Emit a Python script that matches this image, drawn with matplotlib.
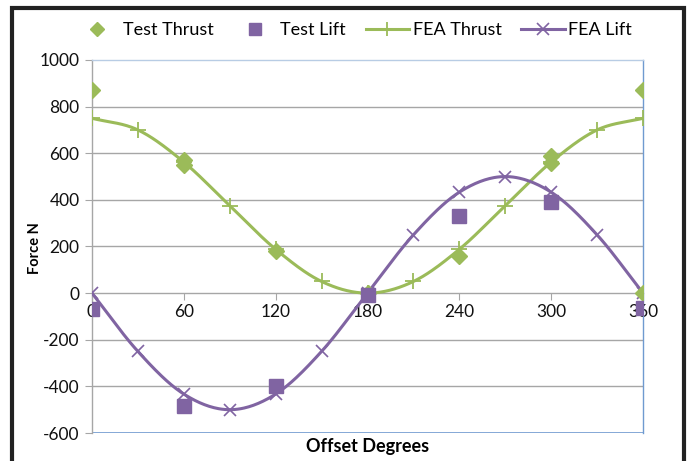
import matplotlib
matplotlib.use("Agg")
import matplotlib.pyplot as plt
import matplotlib.patches as patches
from matplotlib.lines import Line2D
import numpy as np

plt.rcParams['font.family'] = ['Lato', 'DejaVu Sans']
plt.rcParams['axes.unicode_minus'] = False

# data
fea_deg = [0, 30, 60, 90, 120, 150, 180, 210, 240, 270, 300, 330, 360]
fea_thrust = [750, 700, 562, 375, 188, 50, 0, 50, 188, 375, 562, 700, 750]
fea_lift = [0, -250, -433, -500, -433, -250, 0, 250, 433, 500, 433, 250, 0]

test_thrust_deg = [0, 60, 60, 120, 180, 240, 300, 300, 360, 360]
test_thrust = [870, 550, 572, 180, 0, 160, 560, 588, 870, 0]

test_lift_deg = [0, 60, 120, 180, 240, 300, 360]
test_lift = [-70, -485, -400, -10, 330, 390, -65]

x_ticks = [0, 60, 120, 180, 240, 300, 360]
y_ticks = [-600, -400, -200, 0, 200, 400, 600, 800, 1000]

GREEN = '#9BBB59'
PURPLE = '#8064A2'


def smooth(xs, ys, n=30):
    # catmull-rom style smoothing, like Excel's smoothed line
    x = np.asarray(xs, float)
    y = np.asarray(ys, float)
    px = np.concatenate([[2 * x[0] - x[1]], x, [2 * x[-1] - x[-2]]])
    py = np.concatenate([[2 * y[0] - y[1]], y, [2 * y[-1] - y[-2]]])
    ox, oy = [], []
    t = np.linspace(0, 1, n)
    for i in range(1, len(px) - 2):
        for arr, out in ((px, ox), (py, oy)):
            p0, p1, p2, p3 = arr[i - 1], arr[i], arr[i + 1], arr[i + 2]
            out.extend(0.5 * ((2 * p1) + (-p0 + p2) * t
                              + (2 * p0 - 5 * p1 + 4 * p2 - p3) * t ** 2
                              + (-p0 + 3 * p1 - 3 * p2 + p3) * t ** 3))
    return ox, oy


fig = plt.figure(figsize=(6.88, 4.61), dpi=100)
fig.patch.set_facecolor('white')
ax = fig.add_axes([92 / 688, 1 - 433 / 461, (643 - 92) / 688, (433 - 60) / 461])

# outer frame
fig.add_artist(patches.Rectangle((12 / 688, -0.05), (684 - 12) / 688, 1 - 8 / 461 + 0.05,
                                 transform=fig.transFigure, fill=False,
                                 edgecolor='#222222', linewidth=3))

for yv in y_ticks:
    if yv not in (-600, 0, 1000):
        ax.axhline(yv, color='#A6A6A6', linewidth=1, zorder=0)
ax.axhline(-600, color='#6F9AD0', linewidth=1.2, zorder=1)

sx, sy = smooth(fea_deg, fea_thrust)
ax.plot(sx, sy, color=GREEN, linewidth=2.2, zorder=3)
ax.plot(fea_deg, fea_thrust, linestyle='none', marker='+', markersize=11,
        markeredgewidth=1.3, color=GREEN, zorder=4)
sx, sy = smooth(fea_deg, fea_lift)
ax.plot(sx, sy, color=PURPLE, linewidth=2.2, zorder=3)
ax.plot(fea_deg, fea_lift, linestyle='none', marker='x', markersize=9,
        markeredgewidth=1.2, color=PURPLE, zorder=4)

ax.plot(test_thrust_deg, test_thrust, linestyle='none', marker='D', markersize=8,
        color=GREEN, zorder=5)
ax.plot(test_lift_deg, test_lift, linestyle='none', marker='s', markersize=10,
        color=PURPLE, zorder=5)

ax.set_xlim(0, 360)
ax.set_ylim(-600, 1000)
ax.set_xticks(x_ticks)
ax.set_yticks(y_ticks)
ax.tick_params(axis='x', direction='out', length=5, color='#A6A6A6',
               labelsize=12.5, pad=3, labelcolor='#111111')
ax.tick_params(axis='y', direction='out', length=5, color='#A6A6A6',
               labelsize=12.5, pad=4, labelcolor='#111111')

ax.spines['bottom'].set_position(('data', 0))
ax.spines['bottom'].set_color('#A6A6A6')
ax.spines['left'].set_color('#A6A6A6')
ax.spines['top'].set_color('#B8CCE4')
ax.spines['right'].set_color('#6F9AD0')
for s in ax.spines.values():
    s.set_linewidth(1)

ax.set_ylabel('Force N', fontsize=10.5, fontweight='bold')
ax.yaxis.set_label_coords(-0.091, 0.496)
fig.text(368 / 688, 1 - 446 / 461, 'Offset Degrees', fontsize=13,
         fontweight='bold', ha='center', va='center')

handles = [
    Line2D([], [], linestyle='none', marker='D', markersize=7, color=GREEN),
    Line2D([], [], linestyle='none', marker='s', markersize=8, color=PURPLE),
    Line2D([], [], color=GREEN, linewidth=2.2, marker='+', markersize=10, markeredgewidth=1.3),
    Line2D([], [], color=PURPLE, linewidth=2.2, marker='x', markersize=8, markeredgewidth=1.2),
]
labels = ['Test Thrust', 'Test Lift', 'FEA Thrust', 'FEA Lift']
fig.legend(handles, labels, loc='center', bbox_to_anchor=(354 / 688, 1 - 30 / 461),
           ncol=4, frameon=False, fontsize=13, handlelength=2.4,
           handletextpad=0.2, columnspacing=1.1)

fig.savefig('out.png', dpi=100)
